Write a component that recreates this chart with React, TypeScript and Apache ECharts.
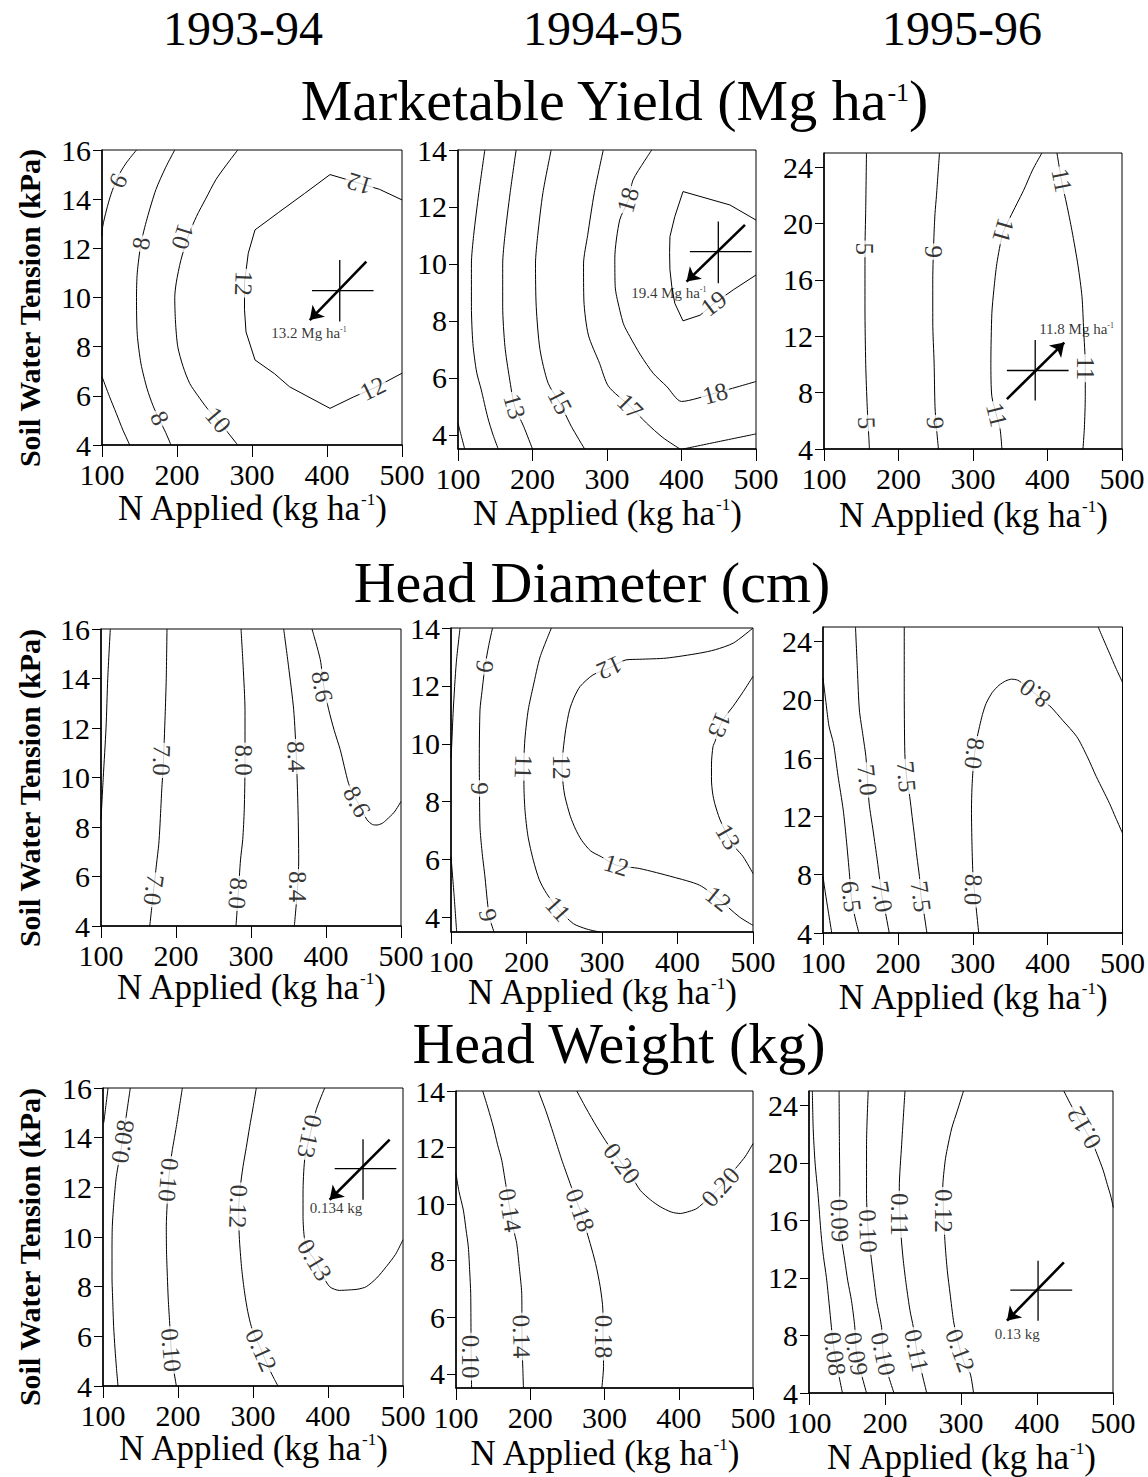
import React, { useEffect, useRef } from 'react';
import * as echarts from 'echarts';

const SERIF = '"Liberation Serif", "Times New Roman", Times, serif';

// ---------- axes ----------
const N_MIN = 100;
const N_MAX = 500;
const N_STEP = 100;
const SWT_RANGE_A = [4, 16];
const SWT_RANGE_B = [3.5, 14];
const SWT_RANGE_C = [4, 25];
const SWT_TICKS_A = [4, 6, 8, 10, 12, 14, 16];
const SWT_TICKS_B = [4, 6, 8, 10, 12, 14];
const SWT_TICKS_C = [4, 8, 12, 16, 20, 24];
const SEASONS = ['1993-94', '1994-95', '1995-96'];
const X_TITLE = ['N Applied (kg ha', '-1', ')'];
const Y_TITLE = 'Soil Water Tension (kPa)';
const RESPONSE_TITLES = [
  ['Marketable Yield (Mg ha', '-1', ')'],
  ['Head Diameter (cm)', '', ''],
  ['Head Weight (kg)', '', ''],
];

type Line = [string, number[][]];
type Lab = [number, number, string, number];

// ---------- Marketable yield 1993-94 ----------
const MY_9394_LINES: Line[] = [
  ['6', [[146, 16], [132, 15.46], [121, 14.9], [112, 14.2], [106, 13.56], [101, 12.9], [100, 12.5]]],
  ['6', [[100, 6.78], [110, 5.97], [119, 5.29], [128, 4.6], [137, 4]]],
  ['8', [[197, 16], [185, 15.3], [172, 14.4], [160, 13.2], [152, 12.2], [147, 11], [146, 10], [147, 8.5], [152, 7.3], [160, 6.3], [168, 5.6], [177, 5.0], [185, 4.5], [192, 4]]],
  ['10', [[281, 16], [266, 15.4], [252, 14.8], [238, 14.0], [226, 13.3], [215, 12.5], [205, 11.5], [199, 10.6], [197, 10], [198, 9], [201, 8], [208, 7.2], [217, 6.5], [228, 6], [240, 5.5], [255, 5.0], [268, 4.5], [281, 4]]],
  ['12', [[500, 13.97], [470, 14.4], [443, 14.65], [404, 15.0], [370, 14.23], [335, 13.45], [304, 12.75], [295, 11.8], [290, 10.6], [290, 9.5], [292, 8.6], [304, 7.46], [330, 6.9], [350, 6.37], [380, 5.88], [404, 5.49], [435, 5.95], [465, 6.35], [500, 6.92]]],
];
const MY_9394_LABELS: Lab[] = [
  [121, 14.75, '6', 64], [152, 12.2, '8', 80], [208, 12.47, '10', -107], [289, 10.58, '12', -92],
  [443, 14.62, '12', 163], [255, 5.02, '10', -50], [177, 5.1, '8', -65], [461, 6.3, '12', 26],
];
const OPT_MY_9394 = [417, 10.28];
const ARMS_MY_9394 = [380, 462, 9.02, 11.53];
const ARROW_MY_9394 = [[452.4, 11.46], [377, 9.08]];
const NOTE_MY_9394 = [376, 8.54, '13.2 Mg ha', '-1'];

// ---------- Marketable yield 1994-95 ----------
const MY_9495_LINES: Line[] = [
  ['', [[100, 4.41], [104, 4.0], [109, 3.5]]],
  ['', [[136, 14], [128, 12.5], [121, 11], [118, 10], [118, 8.5], [120, 7.2], [125, 6.2], [131, 5.6], [140, 4.6], [147, 4.0], [154, 3.5]]],
  ['13', [[178, 14], [170, 12.5], [163, 11], [160, 10], [160, 8.5], [163, 7.1], [169, 6], [176, 5.0], [188, 4.3], [200, 3.5]]],
  ['15', [[225, 14], [214, 12.5], [207, 11], [204, 10], [205, 8.5], [210, 7], [221, 5.81], [237, 5.1], [252, 4.3], [270, 3.5]]],
  ['17', [[295, 14], [283, 12.5], [274, 11], [268.5, 10], [269, 8.7], [275, 7.5], [290, 6.51], [302, 5.7], [331, 5.0], [353, 4.41], [375, 3.9], [398, 3.5]]],
  ['18', [[360, 14], [350, 13.6], [335, 12.95], [328, 12.2], [317, 11.54], [310.5, 10.2], [311, 9.2], [313, 8.85], [322, 7.9], [330.7, 7.45], [345, 6.8], [362, 6.16], [380, 5.7], [400, 5.17], [445, 5.46], [500, 5.87]]],
  ['18', [[402, 3.5], [450, 3.76], [500, 4.03]]],
  ['19', [[500, 11.54], [465, 12.07], [402, 12.54], [391, 11.66], [384.5, 10.96], [384, 10.4], [384.5, 9.79], [387, 9.2], [391, 8.62], [402, 8.0], [425, 8.2], [443, 8.6], [469.5, 9.09], [500, 9.61]]],
];
const MY_9495_LABELS: Lab[] = [
  [176, 5.0, '13', -74], [237, 5.17, '15', -63], [331, 5.0, '17', -45],
  [328, 12.25, '18', 74], [445, 5.46, '18', 15], [443, 8.62, '19', 37],
];
const OPT_MY_9495 = [449.4, 10.43];
const ARMS_MY_9495 = [411.3, 494.2, 9.32, 11.49];
const ARROW_MY_9495 = [[485.2, 11.37], [406.8, 9.38]];
const NOTE_MY_9495 = [383, 8.97, '19.4 Mg ha', '-1'];

// ---------- Marketable yield 1995-96 ----------
const MY_9596_LINES: Line[] = [
  ['5', [[157, 25], [156, 21], [155, 18], [155, 14], [156, 10], [158, 7], [160, 5], [161, 4]]],
  ['9', [[255, 25], [251, 22], [249, 20.7], [247.5, 19], [246, 16], [246, 13], [247.8, 10.1], [249, 7], [251, 5.5], [253.6, 4]]],
  ['11', [[392.5, 25], [380, 23.8], [367.9, 22.35], [350, 20.46], [340, 19.3], [332, 17.16], [328, 15.3], [325.3, 13.62], [324, 10.08], [325.3, 7.73], [332, 6.3], [336.5, 5.37], [338.8, 4]]],
  ['11', [[412.7, 25], [419, 23], [426, 21.3], [432.8, 19.5], [441, 17], [446.3, 14.8], [448.5, 12.44], [450.7, 10], [450.7, 7.73], [449.5, 5.5], [447.6, 4]]],
];
const MY_9596_LABELS: Lab[] = [
  [155, 18.2, '5', -90], [157.5, 5.84, '5', -88], [247, 18, '9', -90], [249.5, 5.84, '9', -88],
  [341, 19.5, '11', -106], [332, 6.43, '11', -76], [419.4, 23.06, '11', -79], [450.7, 9.73, '11', -90],
];
const OPT_MY_9596 = [383.5, 9.57];
const ARMS_MY_9596 = [345.5, 428.3, 7.44, 11.74];
const ARROW_MY_9596 = [[345.5, 7.54], [422.5, 11.55]];
const NOTE_MY_9596 = [439, 12.5, '11.8 Mg ha', '-1'];

// ---------- Head diameter 1993-94 ----------
const HD_9394_LINES: Line[] = [
  ['', [[112.4, 16], [109, 14], [106.7, 12], [103, 10], [100, 8.29]]],
  ['7.0', [[188, 16], [187, 14], [185.5, 12.5], [183, 10.5], [181, 9.5], [178.5, 8], [177, 7.3], [174, 6.5], [170, 5.4], [167.5, 4.7], [165, 4]]],
  ['8.0', [[286.7, 16], [289.5, 14.5], [292, 12.7], [292, 10.5], [291, 8.7], [289, 7.5], [286, 6.67], [283, 5.3], [280, 4]]],
  ['8.4', [[343.6, 16], [350, 14.5], [356.9, 12.74], [360.4, 10.85], [362.7, 8.69], [363.6, 6.67], [362, 5.5], [357.8, 4]]],
  ['8.6', [[381.3, 16], [392.4, 14.76], [397, 13.7], [403.6, 12.74], [411, 11.9], [419, 11.12], [430, 9.77], [437, 9.3], [445, 8.85], [454.7, 8.29], [462, 8.1], [468, 8.08], [475, 8.15], [481, 8.3], [491, 8.6], [500, 9.03]]],
];
const HD_9394_LABELS: Lab[] = [
  [181, 10.7, '7.0', -92], [170.5, 5.46, '7.0', -98], [290.2, 10.7, '8.0', -90], [282.5, 5.32, '8.0', -95],
  [360.5, 10.85, '8.4', -88], [361.5, 5.59, '8.4', -90], [395, 13.68, '8.6', -80], [441.3, 9.03, '8.6', -62],
];

// ---------- Head diameter 1994-95 ----------
const HD_9495_LINES: Line[] = [
  ['', [[112, 14], [107, 12.8], [103, 11.17], [101, 10.0], [100, 9.5]]],
  ['', [[100, 6.1], [104, 4.8], [107.5, 3.5]]],
  ['9', [[155, 14], [150, 13.4], [145, 12.67], [141, 11.8], [138.4, 11.17], [137.5, 9.44], [137.7, 8.5], [138.4, 7.13], [141, 6.3], [145, 5.4], [148, 4.6], [151, 4.0], [157, 3.5]]],
  ['11', [[233, 14], [218, 13], [209, 12], [202.3, 11.17], [198, 10.2], [196.6, 9.4], [196.6, 8.6], [198, 7.7], [202, 6.8], [209, 5.98], [217, 5.3], [226.6, 4.83], [242, 4.3], [262, 3.79], [280, 3.6], [297, 3.5]]],
  ['12', [[500, 14], [474, 13.48], [450, 13.25], [429, 13.13], [385, 12.96], [350, 12.92], [332, 12.9], [310, 12.62], [288, 12.38], [271, 11.98], [263, 11.6], [257, 11.17], [252, 10.5], [248.6, 9.79], [247, 9.2], [248.5, 8.6], [251, 8.17], [258, 7.5], [265, 7.05], [273, 6.67], [285, 6.3], [299, 6.1], [319, 5.81], [350, 5.69], [394, 5.4], [429, 5.12], [454, 4.65], [482, 4.02], [500, 3.73]]],
  ['13', [[500, 12.33], [487, 11.8], [473.5, 11.29], [462, 10.9], [456, 10.6], [450, 10.1], [447, 9.9], [445, 9.3], [445, 8.75], [446.5, 8.3], [449.3, 7.94], [456, 7.4], [467, 6.79], [477, 6.4], [487, 6.1], [500, 5.52]]],
];
const HD_9495_LABELS: Lab[] = [
  [145, 12.67, '9', -97], [137.5, 8.46, '9', -90], [149.4, 4.08, '9', -77],
  [196, 9.21, '11', -92], [242, 4.3, '11', -48],
  [310, 12.62, '12', -156], [247, 9.2, '12', -90], [319, 5.81, '12', -17], [454, 4.65, '12', -39],
  [456, 10.65, '13', -113], [467, 6.79, '13', -60],
];

// ---------- Head diameter 1995-96 ----------
const HD_9596_LINES: Line[] = [
  ['6.0', [[100, 7.88], [103, 6.8], [107, 5.5], [111.7, 4]]],
  ['6.5', [[100, 21.5], [104, 19.8], [108, 18.2], [114, 17], [120, 14.8], [127, 12.45], [131, 10.5], [135.6, 7.9], [137.7, 6.5], [141, 5.5], [144, 4.8], [148, 4]]],
  ['7.0', [[143.4, 25], [146, 22], [148.6, 19.3], [153.5, 17.5], [157.3, 16.1], [159.5, 14.5], [161.6, 12.9], [167, 11], [172.4, 9.02], [176, 7.6], [179, 6.5], [183, 5.5], [188.5, 4]]],
  ['7.5', [[208.5, 25], [208.5, 21], [209.3, 16.33], [211.5, 14.73], [215.8, 13.36], [219, 12], [222.3, 10.62], [225.5, 9.2], [228.8, 7.88], [231, 6.51], [235, 5.3], [238.8, 4]]],
  ['8.0', [[308, 4], [305, 5.5], [302.6, 6.74], [300.4, 7.88], [299, 10], [298.3, 12.45], [299, 14], [300.4, 15.19], [302.6, 16.33], [305, 17.2], [309, 18.16], [313, 19.0], [317.8, 19.75], [326, 20.5], [335, 21.0], [344, 21.3], [352, 21.42], [360, 21.35], [370, 21.0], [383, 20.44], [395, 19.9], [404.6, 19.5], [420, 18.6], [439, 17.47], [453, 16.1], [465, 14.73], [474, 13.8], [482.6, 12.9], [491, 11.9], [500, 10.85]]],
  ['', [[467.5, 25], [475, 24.1], [482.6, 23.2], [491, 22.2], [500, 21.2]]],
];
const HD_9596_LABELS: Lab[] = [
  [137.7, 6.5, '6.5', -83], [159.3, 14.5, '7.0', -84], [179, 6.5, '7.0', -80],
  [211.5, 14.73, '7.5', -85], [231, 6.51, '7.5', -82],
  [300.8, 6.97, '8.0', -92], [302.3, 16.33, '8.0', -97], [383, 20.44, '8.0', 143],
];

// ---------- Head weight 1993-94 ----------
const HW_9394_LINES: Line[] = [
  ['', [[106.7, 16], [103.5, 15.2], [101, 14.6]]],
  ['0.08', [[136.4, 16], [130.2, 14.72], [124.5, 13.6], [117.8, 12.44], [114.5, 11.4], [112.4, 10.42], [112, 9.4], [112, 8.41], [113, 7.4], [114.2, 6.39], [116, 5.5], [118, 4.7], [120, 4]]],
  ['0.10', [[205.8, 16], [197.8, 14.45], [191.1, 13.25], [187.5, 12.3], [185.5, 11.3], [184.4, 10.42], [184.7, 9.4], [185.8, 8.41], [187, 7.5], [188.9, 6.53], [191, 5.45], [194, 4.7], [197.8, 4]]],
  ['0.12', [[304.4, 16], [300, 15.2], [295.6, 14.45], [291, 13.6], [286.7, 12.84], [283, 12], [281, 11.2], [281.2, 10.4], [282.2, 9.75], [285, 8.7], [288.9, 7.74], [293, 7.0], [297.8, 6.39], [304, 5.9], [311, 5.45], [317, 5.0], [322.2, 4.65], [328, 4.3], [333.3, 4]]],
  ['0.13', [[395.6, 16], [384.4, 15.13], [375.6, 14.05], [368.9, 13.11], [366.7, 11.77], [366.7, 10.83], [368.9, 9.89], [375, 9.4], [382.2, 9.08], [392, 8.5], [402.2, 8.0], [415, 7.85], [428.9, 7.87], [440, 7.9], [451.1, 8.0], [465, 8.35], [477.8, 8.81], [490, 9.3], [500, 9.89]]],
];
const HW_9394_LABELS: Lab[] = [
  [126, 13.85, '0.08', 81], [187.5, 12.3, '0.10', -95], [191, 5.45, '0.10', -85],
  [280.5, 11.23, '0.12', -92], [311, 5.45, '0.12', -66],
  [375.6, 14.05, '0.13', -102], [382.2, 9.08, '0.13', -59],
];
const OPT_HW_9394 = [446.7, 12.75];
const ARMS_HW_9394 = [408.9, 491.1, 11.5, 13.94];
const ARROW_HW_9394 = [[482.2, 13.92], [402.2, 11.5]];
const NOTE_HW_9394 = [410.7, 11.17, '0.134 kg', ''];

// ---------- Head weight 1994-95 ----------
const HW_9495_LINES: Line[] = [
  ['0.10', [[100, 11.08], [104, 10.45], [109.9, 9.79], [113.5, 9.1], [116.6, 8.49], [118.5, 7.6], [119.8, 6.85], [120.2, 5.5], [120.5, 4.5], [121, 3.5]]],
  ['0.14', [[136, 14], [143, 13.4], [150.3, 12.73], [156, 12.1], [161.6, 11.55], [167, 10.7], [172.8, 9.79], [177.5, 9.1], [181.8, 8.61], [185.5, 7.7], [188.5, 6.85], [188.8, 6], [189, 5], [190, 4.2], [190.8, 3.5]]],
  ['0.18', [[211, 14], [221, 13.3], [231.2, 12.49], [242, 11.6], [253.7, 10.73], [261, 10.2], [267.2, 9.79], [274, 9.2], [280.7, 8.61], [288, 7.9], [294.2, 7.08], [297.8, 6.26], [298, 5.32], [298.7, 4.26], [296.4, 3.5]]],
  ['0.20', [[262.7, 14], [275, 13.4], [289.7, 12.73], [305, 12.1], [323.4, 11.44], [336, 11], [348.1, 10.49], [362, 10.15], [375, 9.91], [390, 9.72], [402, 9.67], [415, 9.75], [424.5, 9.85], [440, 10.2], [456, 10.61], [468, 11.0], [478.4, 11.32], [490, 11.7], [500, 12.14]]],
];
const HW_9495_LABELS: Lab[] = [
  [120.2, 4.61, '0.10', -90], [172.8, 9.79, '0.14', -81], [188.5, 5.32, '0.14', -89],
  [267.2, 9.79, '0.18', -71], [298, 5.32, '0.18', -90],
  [323.4, 11.44, '0.20', -53], [456, 10.61, '0.20', 48],
];

// ---------- Head weight 1995-96 ----------
const HW_9596_LINES: Line[] = [
  ['0.08', [[104.4, 25], [105.5, 22.4], [108, 20], [111.9, 17.8], [116, 15], [119, 13.5], [122.9, 12.04], [126.5, 10.2], [129.5, 8.57], [131.5, 7.6], [134, 6.7], [139, 5.3], [144, 4]]],
  ['0.09', [[139.6, 25], [140, 21.5], [140.5, 18.27], [140.5, 16], [142.5, 14.8], [147.1, 13.19], [151, 11.8], [155.9, 10.42], [160.3, 8.57], [162.5, 6.73], [168, 5.5], [175.7, 4]]],
  ['0.10', [[177.9, 25], [175.7, 21.27], [175.7, 17.81], [177.9, 15.27], [182.3, 13.19], [186, 11.6], [188.9, 10.42], [195.5, 8.57], [197.7, 6.73], [204, 5.3], [211.8, 4]]],
  ['0.11', [[226.3, 25], [221.9, 21.27], [218.8, 18.27], [219.7, 16.42], [221.5, 14.7], [224.1, 13.19], [228, 11.5], [232.9, 9.73], [237.3, 8.57], [241.7, 6.96], [248, 5.5], [254.9, 4]]],
  ['0.12', [[303.3, 25], [295, 23.6], [287.9, 22.43], [282, 21], [279.1, 20.12], [276, 18.27], [276.9, 16.66], [279.1, 14.35], [282, 12.5], [285.7, 10.88], [290.1, 9.03], [294, 8], [299, 6.96], [305, 6], [312.2, 5.34], [316.5, 4]]],
  ['0.12', [[435.3, 25], [447, 23.8], [461.7, 22.43], [472, 21.5], [479.3, 20.58], [487, 19.5], [492.5, 18.5], [497, 17.7], [500.4, 16.9]]],
];
const HW_9596_LABELS: Lab[] = [
  [134, 6.73, '0.08', -82], [140.5, 16, '0.09', -88], [162.5, 6.73, '0.09', -80],
  [177.9, 15.27, '0.10', -88], [197.7, 6.73, '0.10', -78],
  [219.7, 16.42, '0.11', -90], [241.7, 6.96, '0.11', -78],
  [276.9, 16.66, '0.12', -90], [299, 6.96, '0.12', -70], [461.7, 22.43, '0.12', 120],
];
const OPT_HW_9596 = [401.4, 11.16];
const ARMS_HW_9596 = [364.9, 446.3, 9.03, 13.19];
const ARROW_HW_9596 = [[435.3, 13.08], [360.5, 9.03]];
const NOTE_HW_9596 = [374, 8.11, '0.13 kg', ''];

// ---------- panel layout (pixels) ----------
const LAYOUT = [
  { left: 102, top: 150, width: 300, height: 295, gap: 46 },
  { left: 458, top: 150, width: 298, height: 299, gap: 47 },
  { left: 824, top: 153, width: 298, height: 296, gap: 49 },
  { left: 101, top: 629, width: 300, height: 297, gap: 44 },
  { left: 451, top: 628, width: 302, height: 304, gap: 43 },
  { left: 823, top: 627, width: 307, height: 306, gap: 47 },
  { left: 103, top: 1088, width: 300, height: 298, gap: 45 },
  { left: 456, top: 1091, width: 297, height: 297, gap: 48 },
  { left: 809, top: 1091, width: 304, height: 302, gap: 47 },
];

interface Opt { pt: number[]; arms: number[]; arrow: number[][]; note: any[] }
interface Panel { key: string; lines: Line[]; labels: Lab[]; range: number[]; ticks: number[]; opt?: Opt }

const PANELS: Panel[] = [
  { key: 'MY_9394', lines: MY_9394_LINES, labels: MY_9394_LABELS, range: SWT_RANGE_A, ticks: SWT_TICKS_A, opt: { pt: OPT_MY_9394, arms: ARMS_MY_9394, arrow: ARROW_MY_9394, note: NOTE_MY_9394 } },
  { key: 'MY_9495', lines: MY_9495_LINES, labels: MY_9495_LABELS, range: SWT_RANGE_B, ticks: SWT_TICKS_B, opt: { pt: OPT_MY_9495, arms: ARMS_MY_9495, arrow: ARROW_MY_9495, note: NOTE_MY_9495 } },
  { key: 'MY_9596', lines: MY_9596_LINES, labels: MY_9596_LABELS, range: SWT_RANGE_C, ticks: SWT_TICKS_C, opt: { pt: OPT_MY_9596, arms: ARMS_MY_9596, arrow: ARROW_MY_9596, note: NOTE_MY_9596 } },
  { key: 'HD_9394', lines: HD_9394_LINES, labels: HD_9394_LABELS, range: SWT_RANGE_A, ticks: SWT_TICKS_A },
  { key: 'HD_9495', lines: HD_9495_LINES, labels: HD_9495_LABELS, range: SWT_RANGE_B, ticks: SWT_TICKS_B },
  { key: 'HD_9596', lines: HD_9596_LINES, labels: HD_9596_LABELS, range: SWT_RANGE_C, ticks: SWT_TICKS_C },
  { key: 'HW_9394', lines: HW_9394_LINES, labels: HW_9394_LABELS, range: SWT_RANGE_A, ticks: SWT_TICKS_A, opt: { pt: OPT_HW_9394, arms: ARMS_HW_9394, arrow: ARROW_HW_9394, note: NOTE_HW_9394 } },
  { key: 'HW_9495', lines: HW_9495_LINES, labels: HW_9495_LABELS, range: SWT_RANGE_B, ticks: SWT_TICKS_B },
  { key: 'HW_9596', lines: HW_9596_LINES, labels: HW_9596_LABELS, range: SWT_RANGE_C, ticks: SWT_TICKS_C, opt: { pt: OPT_HW_9596, arms: ARMS_HW_9596, arrow: ARROW_HW_9596, note: NOTE_HW_9596 } },
];

const ANGULAR = new Set(['MY_9394:12', 'MY_9495:19']);
const SEASON_X = [243, 603, 962];
const TITLE_POS = [[614, 104], [592, 586], [619, 1047]];
const YTITLE_Y = [308, 788, 1247];

function buildOption() {
  const series: any[] = [];
  PANELS.forEach((p, i) => {
    p.lines.forEach(([lvl, pts], j) => {
      series.push({
        type: 'line', name: `${p.key} ${lvl || 'c' + j}`, xAxisIndex: i, yAxisIndex: i, data: pts,
        symbol: 'none', showSymbol: false, smooth: ANGULAR.has(`${p.key}:${lvl}`) ? false : 0.25,
        lineStyle: { color: '#000', width: 1 }, silent: true, z: 2,
      });
    });
    series.push({
      type: 'scatter', name: `${p.key} labels`, xAxisIndex: i, yAxisIndex: i, symbolSize: 1,
      itemStyle: { color: 'rgba(0,0,0,0)' }, silent: true, z: 6,
      data: p.labels.map(([x, y, t, r]) => ({ name: t, value: [x, y], label: { rotate: r } })),
      label: {
        show: true, position: 'inside', formatter: '{b}', fontFamily: SERIF, fontSize: 25, color: '#000',
        backgroundColor: '#fff', padding: [0, 2, 0, 2], lineHeight: 22,
      },
    });
    if (p.opt) {
      const o = p.opt;
      series.push({
        type: 'line', name: `${p.key} opt h`, xAxisIndex: i, yAxisIndex: i, data: [[o.arms[0], o.pt[1]], [o.arms[1], o.pt[1]]],
        symbol: 'none', lineStyle: { color: '#000', width: 1.3 }, silent: true, z: 3,
      });
      series.push({
        type: 'line', name: `${p.key} opt v`, xAxisIndex: i, yAxisIndex: i, data: [[o.pt[0], o.arms[2]], [o.pt[0], o.arms[3]]],
        symbol: 'none', lineStyle: { color: '#000', width: 1.3 }, silent: true, z: 3,
        markLine: {
          silent: true, symbol: ['none', 'arrow'], symbolSize: 13, label: { show: false },
          emphasis: { disabled: true },
          lineStyle: { color: '#000', width: 2.6, type: 'solid' },
          data: [[{ coord: o.arrow[0] }, { coord: o.arrow[1] }]],
        },
      });
      const [nx, ny, txt, sup] = o.note;
      series.push({
        type: 'scatter', name: `${p.key} note`, xAxisIndex: i, yAxisIndex: i, symbolSize: 1,
        itemStyle: { color: 'rgba(0,0,0,0)' }, silent: true, z: 6,
        data: [{ name: sup ? `{a|${txt}}{s|${sup}}` : `{a|${txt}}`, value: [nx, ny] }],
        label: {
          show: true, position: 'inside', formatter: '{b}', color: '#000',
          rich: {
            a: { fontFamily: SERIF, fontSize: 15, color: '#000', verticalAlign: 'bottom' },
            s: { fontFamily: SERIF, fontSize: 8, color: '#000', verticalAlign: 'top' },
          },
        },
      });
    }
  });

  const richTitle = (parts: string[]) =>
    parts[1] ? `{a|${parts[0]}}{s|${parts[1]}}{a|${parts[2]}}` : `{a|${parts[0]}}`;

  const graphic: any[] = [];
  SEASONS.forEach((s, i) => graphic.push({
    type: 'text', x: SEASON_X[i], y: 28, silent: true,
    style: { text: s, fontFamily: SERIF, fontSize: 48, fill: '#000', align: 'center', verticalAlign: 'middle' },
  }));
  RESPONSE_TITLES.forEach((t, i) => graphic.push({
    type: 'text', x: TITLE_POS[i][0], y: TITLE_POS[i][1], silent: true,
    style: {
      text: richTitle(t), align: 'center', verticalAlign: 'middle', fill: '#000',
      rich: {
        a: { fontFamily: SERIF, fontSize: 58, lineHeight: 50, fill: '#000', verticalAlign: 'bottom' },
        s: { fontFamily: SERIF, fontSize: 26, lineHeight: 20, fill: '#000', verticalAlign: 'top' },
      },
    },
  }));
  YTITLE_Y.forEach((y) => graphic.push({
    type: 'text', x: 29, y, rotation: Math.PI / 2, silent: true,
    style: { text: Y_TITLE, fontFamily: SERIF, fontWeight: 'bold', fontSize: 30, fill: '#000', align: 'center', verticalAlign: 'middle' },
  }));

  return {
    animation: false,
    backgroundColor: '#fff',
    grid: LAYOUT.map((g) => ({ left: g.left, top: g.top, width: g.width, height: g.height, show: true, borderColor: '#000', borderWidth: 1, backgroundColor: 'transparent' })),
    xAxis: PANELS.map((p, i) => ({
      type: 'value', gridIndex: i, min: N_MIN, max: N_MAX, interval: N_STEP,
      name: `{a|${X_TITLE[0]}}{s|${X_TITLE[1]}}{a|${X_TITLE[2]}}`, nameLocation: 'middle', nameGap: LAYOUT[i].gap,
      nameMoveOverlap: false,
      nameTextStyle: {
        fontFamily: SERIF, fontSize: 35, color: '#000',
        rich: {
          a: { fontFamily: SERIF, fontSize: 35, color: '#000', verticalAlign: 'bottom' },
          s: { fontFamily: SERIF, fontSize: 17, color: '#000', verticalAlign: 'top' },
        },
      },
      axisLine: { show: true, onZero: false, lineStyle: { color: '#000', width: 1.5 } },
      axisTick: { show: true, inside: false, length: 12, lineStyle: { color: '#000', width: 1 } },
      axisLabel: { show: true, margin: 17, lineHeight: 24, fontFamily: SERIF, fontSize: 30, color: '#000', showMinLabel: true, showMaxLabel: true },
      splitLine: { show: false },
    })),
    yAxis: PANELS.map((p, i) => ({
      type: 'value', gridIndex: i, min: p.range[0], max: p.range[1],
      axisLine: { show: true, onZero: false, lineStyle: { color: '#000', width: 1.5 } },
      axisTick: { show: true, inside: false, length: 9, customValues: p.ticks, lineStyle: { color: '#000', width: 1 } },
      axisLabel: { show: true, margin: 11, lineHeight: 24, customValues: p.ticks, fontFamily: SERIF, fontSize: 30, color: '#000' },
      splitLine: { show: false },
    })),
    graphic,
    series,
  };
}

export default function App() {
  const ref = useRef<HTMLDivElement>(null);
  useEffect(() => {
    if (!ref.current) return;
    const chart = echarts.init(ref.current, undefined, { renderer: 'svg' });
    chart.setOption(buildOption() as any);
    return () => chart.dispose();
  }, []);
  return <div ref={ref} style={{ position: 'fixed', left: 0, top: 0, width: 1148, height: 1477, background: '#fff' }} />;
}
